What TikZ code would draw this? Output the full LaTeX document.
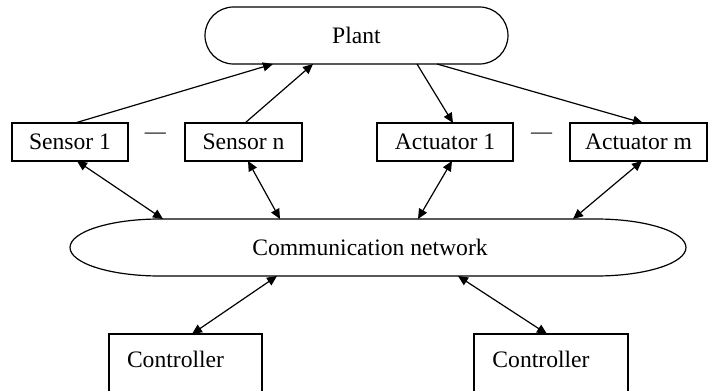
\documentclass[tikz,border=0pt]{standalone}
\usepackage{fontspec}
\setmainfont{Liberation Serif}
\usetikzlibrary{arrows.meta,calc}

\begin{document}
\begin{tikzpicture}[
        x=0.5pt, y=-0.5pt,
        every node/.style={font=\fontsize{11.8}{14}\selectfont, outer sep=0pt},
        plantnode/.style={draw, line width=0.6pt, rounded corners=14.25pt, minimum width=151.5pt, minimum height=28.5pt, inner sep=0pt},
        netnode/.style={minimum width=308pt, minimum height=28.5pt, inner sep=0pt},
        unitbox/.style={draw, line width=0.6pt, minimum height=19pt, inner sep=0pt},
        ctrlbox/.style={draw, line width=0.6pt, anchor=north, inner xsep=9pt, inner ysep=0pt, text width=58.5pt, align=left, text height=16.5pt, text depth=20pt},
        dots/.style={font=\fontsize{10.5}{12}\selectfont, inner sep=0pt},
        arrow/.style={-{Triangle[length=5pt, width=4.5pt]}, line width=0.6pt},
        biarrow/.style={{Triangle[length=5pt, width=4.5pt]}-{Triangle[length=5pt, width=4.5pt]}, line width=0.6pt}
    ]
        \useasboundingbox (0,0) rectangle (709,391);
        \clip (0,0) rectangle (709,391);

        % Plant on top
        \node[plantnode] (plant) at (356.5,35.5) {Plant};

        % Row of sensors and actuators
        \node[unitbox, minimum width=58pt] (s1) at (70,142) {Sensor 1};
        \node[dots] (gap1) at (155.5,136) {---};
        \node[unitbox, minimum width=58.5pt] (sn) at (243.5,142) {Sensor n};
        \node[unitbox, minimum width=68pt] (a1) at (445,142) {Actuator 1};
        \node[dots] (gap2) at (541.5,136) {---};
        \node[unitbox, minimum width=68.5pt] (am) at (638.5,142) {Actuator m};

        % Communication network (flat top and bottom, elliptic ends)
        \node[netnode] (net) at (378,247.5) {Communication network\hspace*{8pt}};
        \draw[line width=0.6pt] ([xshift=45pt]net.north west) -- ([xshift=-45pt]net.north east)
            arc[start angle=90, end angle=-90, x radius=45pt, y radius=14.25pt]
            -- ([xshift=45pt]net.south west)
            arc[start angle=270, end angle=90, x radius=45pt, y radius=14.25pt] -- cycle;

        % Controllers (cut by the bottom edge)
        \node[ctrlbox, minimum width=76.5pt] (c1) at (185.5,334) {Controller};
        \node[ctrlbox, minimum width=77pt] (c2) at (551,334) {Controller};

        % Sensors to plant, plant to actuators
        \draw[arrow] ($(s1.north)+(5,0)$) -- ($(plant.south)+(-83.5,0)$);
        \draw[arrow] ($(sn.north)+(1.5,0)$) -- ($(plant.south)+(-43.5,0)$);
        \draw[arrow] ($(plant.south)+(60.5,0)$) -- ($(a1.north)+(8,0)$);
        \draw[arrow] ($(plant.south)+(80.5,0)$) -- ($(am.north)+(4.5,0)$);

        % Everything talks over the network
        \draw[biarrow] ($(s1.south)+(7,0)$) -- ($(net.north)+(-215,0)$);
        \draw[biarrow] ($(sn.south)+(4.5,0)$) -- ($(net.north)+(-98,0)$);
        \draw[biarrow] ($(a1.south)+(7,0)$) -- ($(net.north)+(40,0)$);
        \draw[biarrow] ($(am.south)+(3.5,0)$) -- ($(net.north)+(195,0)$);
        \draw[biarrow] ($(net.south)+(-101,0)$) -- ($(c1.north)+(6.5,0)$);
        \draw[biarrow] ($(net.south)+(80,0)$) -- ($(c2.north)+(-4,0)$);

    \end{tikzpicture}
\end{document}
